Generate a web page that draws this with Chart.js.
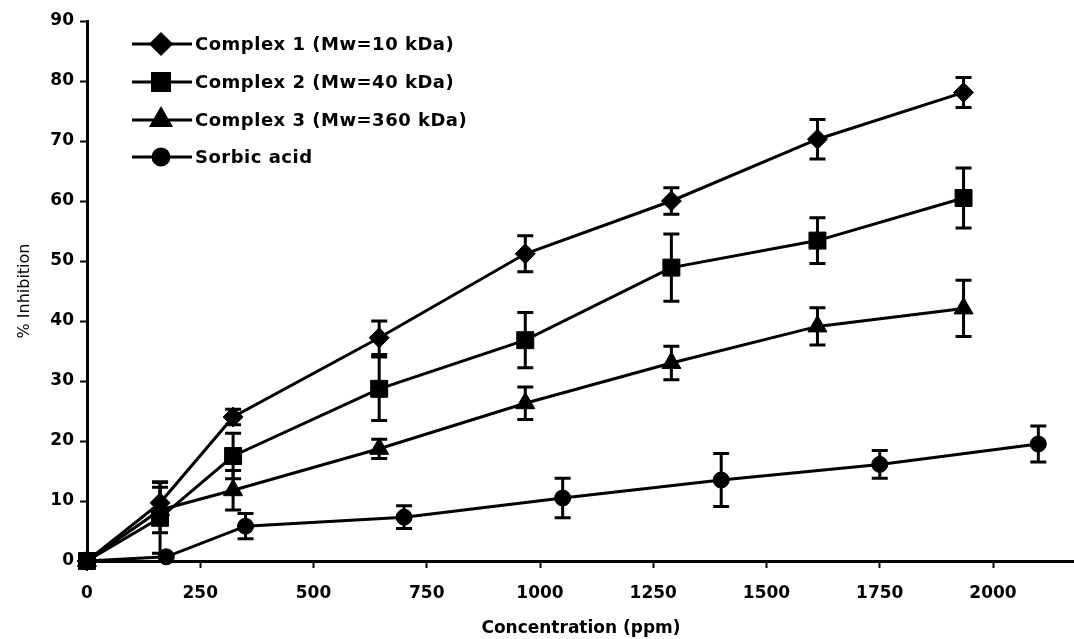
<!DOCTYPE html>
<html>
<head>
<meta charset="utf-8">
<script src="https://cdn.jsdelivr.net/npm/chart.js@4/dist/chart.umd.min.js"></script>
<style>
  html, body { margin: 0; padding: 0; background: #fff; overflow: hidden; }
  #wrap { width: 1088px; height: 639px; position: relative; }
</style>
</head>
<body>
<div id="wrap"><canvas id="chart"></canvas></div>
<script>
/* ── Data ─────────────────────────────────────────────── */
const complexConc = [0, 161.25, 322.5, 645, 967.5, 1290, 1612.5, 1935];
const sorbicConc  = [0, 175, 350, 700, 1050, 1400, 1750, 2100];

const seriesLabels = ['Complex 1 (Mw=10 kDa)', 'Complex 2 (Mw=40 kDa)', 'Complex 3 (Mw=360 kDa)', 'Sorbic acid'];

const complex1    = [0, 9.7, 24, 37.2, 51.2, 60, 70.3, 78.1];
const complex1Err = [0, 3.5, 1.3, 2.8, 3, 2.2, 3.3, 2.5];
const complex2    = [0, 7.2, 17.5, 28.7, 36.8, 48.9, 53.4, 60.5];
const complex2Err = [0, 5.9, 3.8, 5.3, 4.6, 5.6, 3.8, 5];
const complex3    = [0, 8.5, 11.8, 18.7, 26.3, 33, 39.1, 42.1];
const complex3Err = [0, 3.8, 3.3, 1.6, 2.7, 2.8, 3.1, 4.7];
const sorbic      = [0, 0.7, 5.8, 7.3, 10.5, 13.5, 16.1, 19.5];
const sorbicErr   = [0, 0, 2.1, 1.9, 3.3, 4.4, 2.3, 3];

const xTicks = [0, 250, 500, 750, 1000, 1250, 1500, 1750, 2000];
/* ─────────────────────────────────────────────────────── */

const FONT = "'DejaVu Sans', sans-serif";

function pts(xs, ys) { return xs.map((x, i) => ({ x, y: ys[i] })); }

function series(label, xs, ys, errs, style, radius) {
  return {
    label,
    data: pts(xs, ys),
    errors: errs,
    borderColor: '#000',
    backgroundColor: '#000',
    borderWidth: 3,
    pointStyle: style,
    pointRadius: radius,
    pointBorderWidth: 1,
    pointBackgroundColor: '#000',
    pointBorderColor: '#000',
    tension: 0,
    clip: false,
  };
}

// vertical error bars with caps
const errorBars = {
  id: 'errorBars',
  afterDatasetsDraw(chart) {
    const { ctx, scales: { x, y } } = chart;
    ctx.save();
    ctx.strokeStyle = '#000';
    ctx.lineWidth = 3;
    chart.data.datasets.forEach(ds => {
      ds.data.forEach((p, i) => {
        const e = ds.errors[i];
        if (!e) return;
        const px = x.getPixelForValue(p.x);
        const top = y.getPixelForValue(p.y + e);
        const bot = y.getPixelForValue(p.y - e);
        ctx.beginPath();
        ctx.moveTo(px, top); ctx.lineTo(px, bot);
        ctx.moveTo(px - 8, top); ctx.lineTo(px + 8, top);
        ctx.moveTo(px - 8, bot); ctx.lineTo(px + 8, bot);
        ctx.stroke();
      });
    });
    ctx.restore();
  }
};

// line + marker legend inside the plot, top-left
const insideLegend = {
  id: 'insideLegend',
  afterDraw(chart) {
    const { ctx } = chart;
    const rows = [44, 82, 120, 157];
    ctx.save();
    chart.data.datasets.forEach((ds, i) => {
      const yy = rows[i];
      ctx.strokeStyle = '#000';
      ctx.lineWidth = 3;
      ctx.beginPath();
      ctx.moveTo(132, yy); ctx.lineTo(192, yy);
      ctx.stroke();
      ctx.fillStyle = '#000';
      Chart.helpers.drawPoint(ctx, {
        pointStyle: ds.pointStyle, radius: ds.pointRadius, rotation: 0, borderWidth: 1
      }, 161, yy);
      ctx.fill();
      ctx.font = 'bold 18px ' + FONT;
      ctx.letterSpacing = '0.5px';
      ctx.textBaseline = 'middle';
      ctx.textAlign = 'left';
      ctx.fillText(ds.label, 195, yy + 1);
    });
    ctx.restore();
  }
};

new Chart(document.getElementById('chart'), {
  type: 'line',
  data: {
    datasets: [
      series(seriesLabels[0], complexConc, complex1, complex1Err, 'rectRot', 10),
      series(seriesLabels[1], complexConc, complex2, complex2Err, 'rect', 12),
      series(seriesLabels[2], complexConc, complex3, complex3Err, 'triangle', 11),
      series(seriesLabels[3], sorbicConc, sorbic, sorbicErr, 'circle', 8),
    ],
  },
  options: {
    responsive: true,
    maintainAspectRatio: false,
    animation: false,
    layout: { padding: { top: 21, right: 0, left: 0, bottom: 0 } },
    plugins: { legend: { display: false }, tooltip: { enabled: false } },
    scales: {
      x: {
        type: 'linear',
        min: 0,
        max: 2181,
        afterBuildTicks: s => { s.ticks = xTicks.map(v => ({ value: v })); },
        afterFit: s => { s.height = 78; },
        border: { color: '#000', width: 3 },
        grid: { drawOnChartArea: false, tickLength: 7, tickWidth: 2, color: '#000' },
        ticks: {
          color: '#000', font: { family: FONT, size: 17, weight: 'bold' }, padding: 15, maxRotation: 0,
          callback: v => String(v)
        },
        title: {
          display: true, text: 'Concentration (ppm)', color: '#000',
          font: { family: FONT, size: 17, weight: 'bold' }, padding: { top: 0, bottom: 0 }
        },
      },
      y: {
        min: 0,
        max: 90,
        ticks: { stepSize: 10, color: '#000', font: { family: FONT, size: 17, weight: 'bold' }, padding: 6 },
        afterFit: s => { s.width = 87; },
        border: { color: '#000', width: 3 },
        grid: { drawOnChartArea: false, tickLength: 7, tickWidth: 2, color: '#000' },
        title: {
          display: true, text: '% Inhibition', color: '#000',
          font: { family: FONT, size: 16 }, padding: { top: 15, bottom: 0 }
        },
      },
    },
  },
  plugins: [errorBars, insideLegend],
});
</script>
</body>
</html>
